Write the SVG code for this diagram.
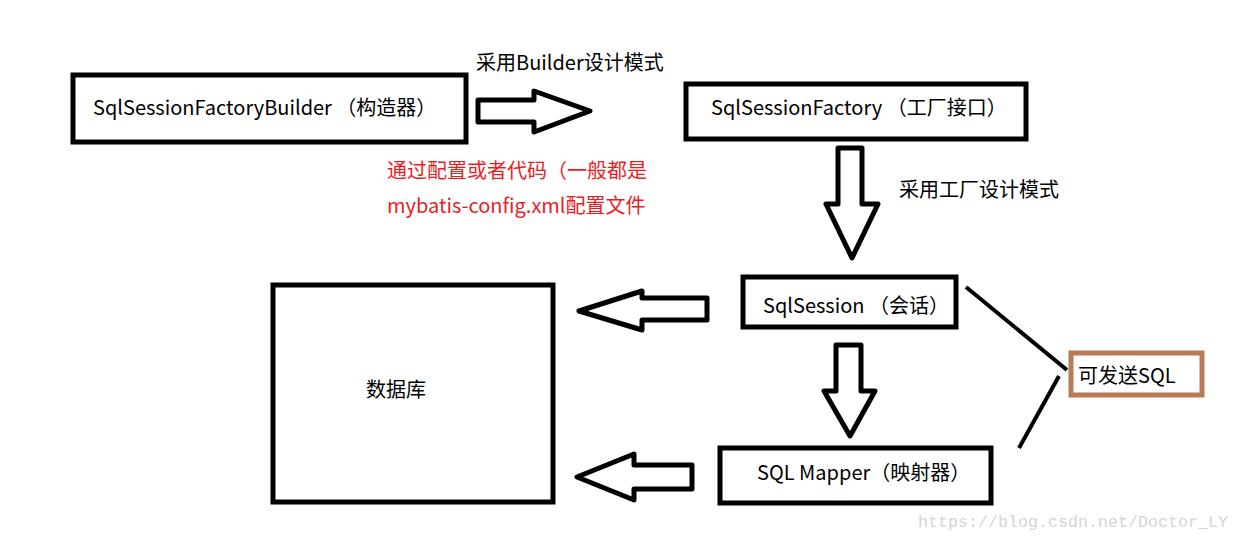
<svg xmlns="http://www.w3.org/2000/svg" width="1239" height="540" viewBox="0 0 1239 540">
<style>
.box{fill:none;stroke:#000;stroke-width:5}
.arr{fill:#fff;stroke:#000;stroke-width:5;stroke-linejoin:round}
.ln{stroke:#000;stroke-width:4;fill:none}
.t{font-family:"Noto Sans CJK SC","Microsoft YaHei",sans-serif;font-size:20px;fill:#000}
.red{fill:#ED1C24}
.wm{font-family:"Liberation Mono",monospace;font-size:17px;fill:#d4d4d4}
</style>
<rect width="1239" height="540" fill="#fff"/>
<g id="connectors">
<polygon class="arr" points="478,100 534,100 534,91 590,111 534,132 534,122 478,122"/>
<polygon class="arr" points="838,148 862,148 862,204 878,204 852,258 826,204 838,204"/>
<polygon class="arr" points="707,298 642,298 642,291 579,311 642,330 642,320 707,320"/>
<polygon class="arr" points="836,345 861,345 861,391 875,391 850,436 824,391 836,391"/>
<polygon class="arr" points="692,465 634,465 634,454 577,477 634,500 634,489 692,489"/>
<line class="ln" x1="966" y1="287" x2="1067" y2="370"/>
<line class="ln" x1="1059" y1="376" x2="1019" y2="448"/>
</g>
<g id="builder">
<rect class="box" x="73" y="75" width="393" height="67"/>
<text class="t" x="93" y="115">SqlSessionFactoryBuilder （构造器）</text>
</g>
<g id="builder-label">
<text class="t" x="476" y="70" font-size="19">采用Builder设计模式</text>
</g>
<g id="config-note">
<text class="t red" x="387" y="178">通过配置或者代码（一般都是</text>
<text class="t red" x="387" y="213">mybatis-config.xml配置文件</text>
</g>
<g id="factory">
<rect class="box" x="686" y="84" width="340" height="55"/>
<text class="t" x="711" y="115">SqlSessionFactory （工厂接口）</text>
</g>
<g id="factory-label">
<text class="t" x="899" y="197">采用工厂设计模式</text>
</g>
<g id="session">
<rect class="box" x="743" y="277" width="213" height="50"/>
<text class="t" x="763" y="313">SqlSession （会话）</text>
</g>
<g id="mapper">
<rect class="box" x="720" y="448" width="271" height="55"/>
<text class="t" x="757" y="480">SQL Mapper（映射器）</text>
</g>
<g id="database">
<rect class="box" x="273" y="285" width="280" height="217"/>
<text class="t" x="366" y="397">数据库</text>
</g>
<g id="send-sql">
<rect x="1071" y="353" width="131" height="42" fill="none" stroke="#B97A57" stroke-width="5"/>
<text class="t" x="1078" y="383">可发送SQL</text>
</g>
<text class="wm" x="918" y="527" textLength="310" lengthAdjust="spacingAndGlyphs">https://blog.csdn.net/Doctor_LY</text>
</svg>
